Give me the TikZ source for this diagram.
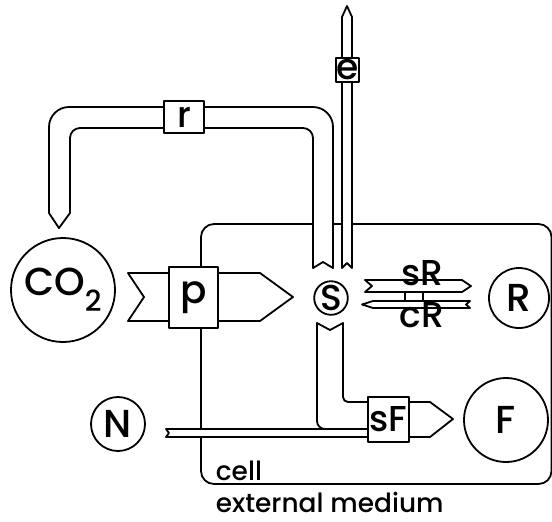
\documentclass[tikz,border=0pt]{standalone}
\usepackage{fontspec}
\setmainfont{Poppins Medium}

\begin{document}
\begin{tikzpicture}[x=0.5pt,y=-0.5pt,line width=0.9pt,line join=round,
  lbl/.style={inner sep=0pt,font=\fontsize{18}{18}\selectfont},
  big/.style={font=\fontsize{19.5}{20}\selectfont},
  pool/.style={lbl,draw,circle},
  enzyme/.style={lbl,draw,fill=white,rectangle},
  tube/.style={draw,fill=white},
  note/.style={anchor=base west,inner sep=0pt,font=\fontsize{13.2}{14}\selectfont}]
\useasboundingbox (0,0) rectangle (552,521);
\draw[rounded corners=6.5pt] (201,224) rectangle (551.5,484);
\node[note] (cell) at (215,480) {cell};
\node[note] (medium) at (215,512) {external medium};
\draw[tube] (59,228) -- (49,213) -- (49,190) [rounded corners=10pt] -- (49,107) -- (333,107) -- (333,200) [sharp corners] -- (333,268) -- (323,262) -- (313,268) -- (313,200) [rounded corners=5pt] -- (313,128) -- (70,128) -- (70,190) [sharp corners] -- (70,213) -- cycle;
\draw[tube] (342,268) -- (342,17) -- (347,6) -- (352,17) -- (352,268) -- (347,263) -- cycle;
\draw[tube] (128,273) -- (144,297) -- (128,321) -- (260,321) -- (293,297) -- (260,273) -- cycle;
\draw[tube] (365,280) -- (372,286) -- (365,292) -- (462,292) -- (471,286) -- (462,280) -- cycle;
\draw[tube] (362,304.5) -- (373,301) -- (470,301) -- (466,304.5) -- (470,308) -- (373,308) -- cycle;
\draw[tube] (405,292) rectangle (423,301);
\draw[tube] (317,323) -- (330,330) -- (343,323) -- (343,370) [rounded corners=2.5pt] -- (343,402) -- (376,402) [sharp corners] -- (376,429) -- (340,429) [rounded corners=4pt] -- (317,429) -- (317,390) [sharp corners] -- cycle;
\draw[tube] (166,429) -- (376,429) -- (376,437) -- (166,437) -- (169,433) -- cycle;
\draw[tube] (400,402) -- (430,402) -- (453,419) -- (430,437) -- (400,437) -- cycle;
\node[enzyme,minimum width=20pt,minimum height=16pt] (r) at (184,117) {r};
\node[enzyme,minimum width=10.5pt,minimum height=12pt] (e) at (347.5,70) {e};
\node[enzyme,big,minimum width=24.5pt,minimum height=30.5pt] (p) at (193.5,297.5) {p};
\node[enzyme,minimum width=20.5pt,minimum height=22.5pt] (sF) at (388.5,419.5) {sF};
\node[lbl,anchor=base] (sR) at (422,285) {sR};
\node[lbl,anchor=base] (cR) at (422,327) {cR};
\node[pool,big,minimum size=52pt] (co2) at (63,290) {CO\raisebox{-0.75ex}{\fontsize{14.5}{15}\selectfont 2}};
\node[pool,minimum size=16pt] (S) at (331,298) {S};
\node[pool,big,minimum size=30pt] (R) at (519,298) {R};
\node[pool,big,minimum size=42pt] (F) at (506,420) {F};
\node[pool,big,minimum size=27pt] (N) at (118,424) {N};
\end{tikzpicture}
\end{document}
